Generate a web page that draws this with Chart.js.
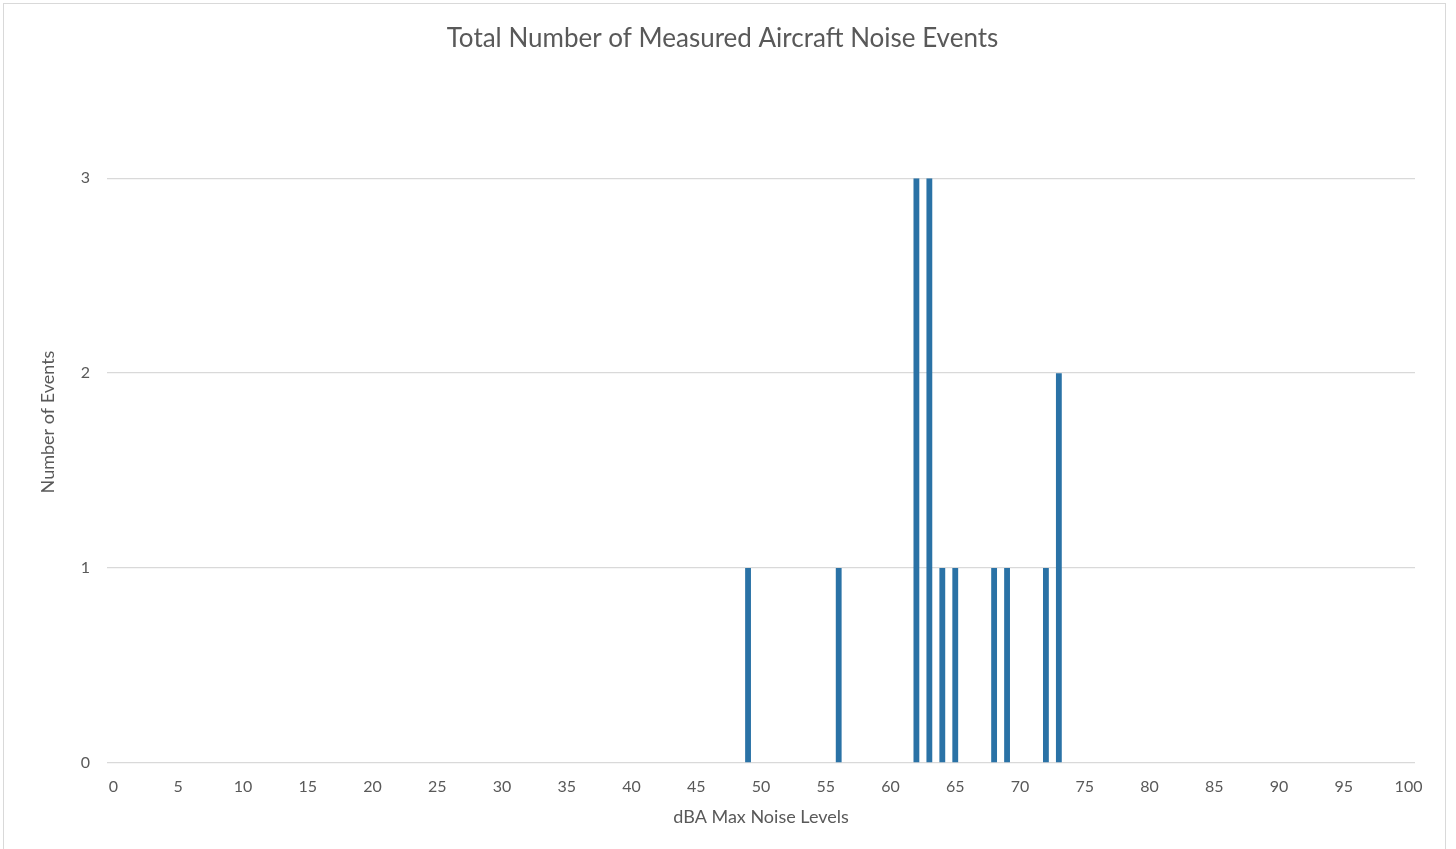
<!DOCTYPE html>
<html>
<head>
<meta charset="utf-8">
<script src="https://cdn.jsdelivr.net/npm/chart.js@4/dist/chart.umd.min.js"></script>
<style>
  html, body { margin: 0; padding: 0; background: #ffffff; overflow: hidden; }
  #wrap { position: relative; width: 1456px; height: 849px; }
  #frame { position: absolute; left: 3px; top: 3px; width: 1441px; height: 900px; border: 1.5px solid #D9D9D9; pointer-events: none; }
  canvas { position: absolute; left: 0; top: 0; }
</style>
</head>
<body>
<div id="wrap">
  <canvas id="c" width="1456" height="849"></canvas>
  <div id="frame"></div>
</div>
<script>
const chartTitle = 'Total Number of Measured Aircraft Noise Events';
const xAxisTitle = 'dBA Max Noise Levels';
const yAxisTitle = 'Number of Events';

// Categories: dBA levels 0..100
const categories = [
  0,1,2,3,4,5,6,7,8,9,10,11,12,13,14,15,16,17,18,19,20,
  21,22,23,24,25,26,27,28,29,30,31,32,33,34,35,36,37,38,39,40,
  41,42,43,44,45,46,47,48,49,50,51,52,53,54,55,56,57,58,59,60,
  61,62,63,64,65,66,67,68,69,70,71,72,73,74,75,76,77,78,79,80,
  81,82,83,84,85,86,87,88,89,90,91,92,93,94,95,96,97,98,99,100
];

// Measured events (levels with non-zero counts)
const eventLevels = [49, 56, 62, 63, 64, 65, 68, 69, 72, 73];
const eventCounts = [1, 1, 3, 3, 1, 1, 1, 1, 1, 2];

// Y-axis ticks
const yTicks = [0, 1, 2, 3];

// Build the per-category count table from the arrays above
const countTable = categories.map(c => {
  const i = eventLevels.indexOf(c);
  return i >= 0 ? eventCounts[i] : 0;
});

const textColor = '#595959';
const gridColor = '#D9D9D9';
const fontFam = 'Lato, "Open Sans", "Noto Sans", sans-serif';

// Y-axis title drawn as canvas text at Excel's position
const yTitlePlugin = {
  id: 'yTitle',
  afterDraw(chart) {
    const ctx = chart.ctx;
    ctx.save();
    ctx.translate(48, 422);
    ctx.rotate(-Math.PI / 2);
    ctx.fillStyle = textColor;
    ctx.font = '18px ' + fontFam;
    ctx.textAlign = 'center';
    ctx.textBaseline = 'middle';
    ctx.fillText(yAxisTitle, 0, 0);
    ctx.restore();
  }
};

new Chart(document.getElementById('c'), {
  type: 'bar',
  data: {
    labels: categories.map(String),
    datasets: [{
      label: 'Events',
      data: countTable,
      backgroundColor: '#2A72A6',
      borderWidth: 0,
      barPercentage: 0.45,
      categoryPercentage: 1.0
    }]
  },
  plugins: [yTitlePlugin],
  options: {
    responsive: false,
    animation: false,
    devicePixelRatio: 1,
    layout: { padding: { left: 30, right: 41, top: 0, bottom: 21 } },
    plugins: {
      legend: { display: false },
      tooltip: { enabled: false },
      title: {
        display: true,
        text: chartTitle,
        color: textColor,
        font: { family: fontFam, size: 26, weight: 'normal' },
        padding: { top: 23, bottom: 124 }
      }
    },
    scales: {
      x: {
        type: 'category',
        offset: true,
        grid: { display: false, drawTicks: false },
        border: { display: false },
        ticks: {
          autoSkip: false,
          maxRotation: 0,
          minRotation: 0,
          padding: 14,
          color: textColor,
          font: { family: fontFam, size: 16 },
          callback: function(value, index) {
            const v = categories[index];
            return v % 5 === 0 ? String(v) : null;
          }
        },
        title: {
          display: true,
          text: xAxisTitle,
          color: textColor,
          font: { family: fontFam, size: 18 },
          padding: { top: 10, bottom: 0 }
        },
        afterFit: function(scale) { scale.height = 65; }
      },
      y: {
        min: yTicks[0],
        max: yTicks[yTicks.length - 1],
        grid: { color: gridColor, lineWidth: 1.3, drawTicks: false },
        border: { display: false },
        ticks: {
          stepSize: 1,
          padding: 17,
          color: textColor,
          font: { family: fontFam, size: 16 }
        },
        title: { display: false },
        afterFit: function(scale) { scale.width = 77; }
      }
    }
  }
});
</script>
</body>
</html>
